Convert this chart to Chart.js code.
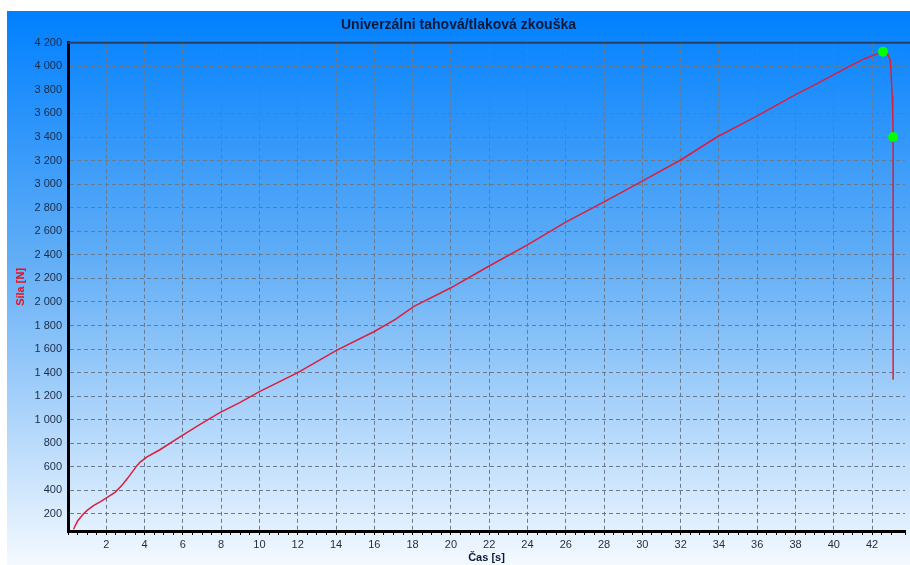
<!DOCTYPE html>
<html>
<head>
<meta charset="utf-8">
<script src="https://cdn.jsdelivr.net/npm/chart.js@4"></script>
<style>
  body { margin: 0; background: #fff; }
  #wrap { position: absolute; left: 7px; top: 11px; width: 903px; height: 554px; }
</style>
</head>
<body>
<div id="wrap"><canvas id="test-chart"></canvas></div>
<script>
// Sample data read from the test record
const timeValues = [
  0.29, 0.5, 0.8, 1.0, 1.33, 1.7, 2.05, 2.47, 2.83, 3.1, 3.35, 3.6, 3.77, 4.13,
  4.8, 5.85, 6.9, 7.93, 8.97, 10.0, 12.0, 14.0, 16.0, 17.1, 18.07, 20.0, 22.0,
  24.0, 26.0, 28.0, 29.9, 32.0, 33.9, 36.0, 38.0, 39.1, 40.0, 40.86, 41.6,
  42.26, 42.57, 42.8, 42.95, 43.0, 43.05, 43.08, 43.1, 43.1,
];
const forceValues = [
  70, 140, 200, 230, 270, 305, 340, 385, 445, 500, 555, 610, 640, 685,
  745, 855, 960, 1060, 1145, 1238, 1400, 1587, 1749, 1851, 1962, 2120, 2305,
  2485, 2677, 2850, 3017, 3205, 3400, 3579, 3760, 3851, 3930, 4004, 4065,
  4106, 4125, 4110, 4050, 3919, 3749, 3600, 3400, 1340,
];

// Marked points (peak and break)
const markTimes = [42.57, 43.1];
const markForces = [4125, 3400];

const chartTitle = "Univerzálni tahová/tlaková zkouška";
const xTitle = "Čas [s]";
const yTitle = "Síla [N]";

function formatNumber(v) {
  return String(Math.round(v)).replace(/\B(?=(\d{3})+(?!\d))/g, " ");
}

const backgroundPlugin = {
  id: "background",
  beforeDraw(chart) {
    const ctx = chart.ctx;
    const g = ctx.createLinearGradient(0, 0, 0, chart.height);
    g.addColorStop(0, "#0080ff");
    g.addColorStop(0.45, "#62aef6");
    g.addColorStop(1, "#f4f9ff");
    ctx.save();
    ctx.fillStyle = g;
    ctx.fillRect(0, 0, chart.width, chart.height);
    ctx.restore();
  },
  afterDraw(chart) {
    const { ctx, chartArea } = chart;
    ctx.save();
    ctx.strokeStyle = "#2b3f5f";
    ctx.lineWidth = 2;
    ctx.beginPath();
    ctx.moveTo(chartArea.left, chartArea.top);
    ctx.lineTo(chart.width, chartArea.top);
    ctx.stroke();
    ctx.restore();
  },
};

const lineData = timeValues.map((t, i) => ({ x: t, y: forceValues[i] }));
const markData = markTimes.map((t, i) => ({ x: t, y: markForces[i] }));

const isEven = (v) => Math.abs(v / 2 - Math.round(v / 2)) < 1e-6;
const isStep = (v) => Math.abs(v / 200 - Math.round(v / 200)) < 1e-6;

const ctx = document.getElementById("test-chart").getContext("2d");

new Chart(ctx, {
  type: "scatter",
  data: {
    datasets: [
      {
        label: "Marks",
        data: markData,
        pointRadius: 5,
        pointBackgroundColor: "#00ff00",
        pointBorderWidth: 0,
        showLine: false,
      },
      {
        label: "Force",
        data: lineData,
        showLine: true,
        borderColor: "#dc1e3c",
        borderWidth: 1.5,
        pointRadius: 0,
        tension: 0,
      },
    ],
  },
  options: {
    responsive: true,
    maintainAspectRatio: false,
    animation: false,
    layout: { padding: 0 },
    scales: {
      x: {
        type: "linear",
        min: 0,
        max: 43.72,
        afterFit(scale) { scale.height = 34; },
        border: { color: "#000", width: 3, dash: [4, 3] },
        grid: {
          color: (c) => (isEven(c.tick.value) && c.tick.value > 0 ? "#6a7a8c" : "transparent"),
          tickColor: "#000",
          tickLength: 4,
          drawOnChartArea: true,
        },
        ticks: {
          stepSize: 0.5,
          autoSkip: false,
          maxRotation: 0,
          padding: 3,
          color: "#1c2b45",
          font: { family: "Liberation Sans, Arial", size: 11 },
          callback: (v) => (isEven(v) && v > 0 ? String(v) : ""),
        },
        title: {
          display: true,
          text: xTitle,
          color: "#0a1a3a",
          font: { family: "Liberation Sans, Arial", size: 11, weight: "bold" },
          padding: 0,
        },
      },
      y: {
        type: "linear",
        min: 55,
        max: 4200,
        afterFit(scale) { scale.width = 61; },
        border: { color: "#000", width: 3, dash: [4, 3] },
        grid: {
          color: (c) => (isStep(c.tick.value) ? "#6a7a8c" : "transparent"),
          drawTicks: false,
        },
        ticks: {
          stepSize: 200,
          autoSkip: false,
          padding: 6,
          color: "#1c2b45",
          font: { family: "Liberation Sans, Arial", size: 11 },
          callback: (v) => (isStep(v) ? formatNumber(v) : ""),
        },
        title: {
          display: true,
          text: yTitle,
          color: "#e8101e",
          font: { family: "Liberation Sans, Arial", size: 11, weight: "bold" },
          padding: { top: 7, bottom: 0 },
        },
      },
    },
    plugins: {
      legend: { display: false },
      tooltip: { enabled: false },
      title: {
        display: true,
        text: chartTitle,
        color: "#0a1a3a",
        font: { family: "Liberation Sans, Arial", size: 14, weight: "bold" },
        padding: { top: 6, bottom: 9 },
      },
    },
  },
  plugins: [backgroundPlugin],
});
</script>
</body>
</html>
